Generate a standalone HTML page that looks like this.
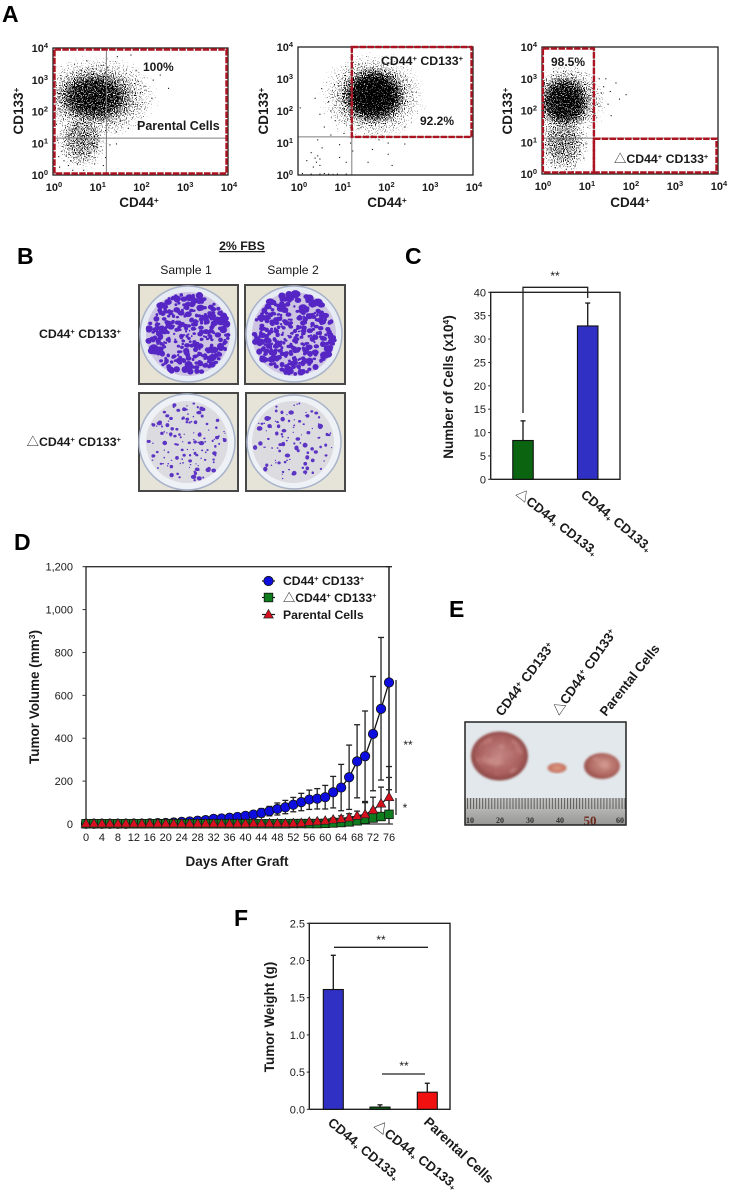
<!DOCTYPE html>
<html>
<head>
<meta charset="utf-8">
<title>CD44 CD133 figure</title>
<style>
html,body{margin:0;padding:0;background:#fff;}
svg{display:block;}
text{font-family:"Liberation Sans","Noto Sans CJK JP",sans-serif;fill:#1a1a1a;}
.b{font-weight:bold;}
.letter{font-size:23px;font-weight:bold;fill:#000;}
.s{font-size:.62em;}
</style>
</head>
<body>
<svg id="fig" xmlns="http://www.w3.org/2000/svg" width="730" height="1195" viewBox="0 0 730 1195">
<defs>
<radialGradient id="cloudGrad">
<stop offset="0" stop-color="#000" stop-opacity=".95"/>
<stop offset=".5" stop-color="#000" stop-opacity=".84"/>
<stop offset=".75" stop-color="#000" stop-opacity=".56"/>
<stop offset="1" stop-color="#000" stop-opacity=".2"/>
</radialGradient>
<filter id="stipple" x="-5%" y="-5%" width="110%" height="110%" color-interpolation-filters="sRGB">
<feTurbulence type="fractalNoise" baseFrequency="0.9" numOctaves="1" seed="4" result="n"/>
<feColorMatrix in="n" type="matrix" values="0 0 0 0 0 0 0 0 0 0 0 0 0 0 0 1.7 0 0 0 -.35" result="na"/>
<feComposite in="SourceGraphic" in2="na" operator="arithmetic" k1="0" k2="1" k3="1" k4="-1" result="d"/>
<feComponentTransfer in="d"><feFuncA type="linear" slope="5"/></feComponentTransfer>
</filter>
<filter id="soft"><feGaussianBlur stdDeviation="1"/></filter>
<filter id="spotSoft"><feGaussianBlur stdDeviation=".35"/></filter>
<filter id="mottle" x="0" y="0" width="100%" height="100%" color-interpolation-filters="sRGB">
<feTurbulence type="fractalNoise" baseFrequency="0.09" numOctaves="2" seed="5"/>
<feColorMatrix type="matrix" values="0 0 0 0 .85 0 0 0 0 .62 0 0 0 0 .6 4 0 0 0 -2.0"/>
<feComposite in2="SourceAlpha" operator="in"/>
<feGaussianBlur stdDeviation="1.3"/>
</filter>
<radialGradient id="tumorGrad" cx=".5" cy=".48" r=".55">
<stop offset="0" stop-color="#c48683"/>
<stop offset=".7" stop-color="#a85e5d"/>
<stop offset="1" stop-color="#84423f"/>
</radialGradient>
<radialGradient id="tumorGrad2" cx=".55" cy=".45" r=".55">
<stop offset="0" stop-color="#cc948a"/>
<stop offset=".7" stop-color="#b26a64"/>
<stop offset="1" stop-color="#964f48"/>
</radialGradient>
<radialGradient id="tumorGrad3" cx=".5" cy=".5" r=".55">
<stop offset="0" stop-color="#dd9a84"/>
<stop offset="1" stop-color="#c06e5c"/>
</radialGradient>
<linearGradient id="rulerGrad" x1="0" y1="0" x2="0" y2="1">
<stop offset="0" stop-color="#c8c8c6"/>
<stop offset=".5" stop-color="#b0b0ae"/>
<stop offset="1" stop-color="#979795"/>
</linearGradient>
<pattern id="rulerTicks" width="3.03" height="14" patternUnits="userSpaceOnUse" x="464" y="798">
<rect width="1" height="11" fill="#5c5c5c"/>
</pattern>
<clipPath id="clipA1"><rect x="53" y="48" width="175" height="127"/></clipPath>
<clipPath id="clipA2"><rect x="298" y="47" width="175" height="128"/></clipPath>
<clipPath id="clipA3"><rect x="542" y="47" width="176" height="127"/></clipPath>
</defs>

<rect x="0" y="0" width="730" height="1195" fill="#fff"/>

<text class="letter" x="2" y="22">A</text>
<text class="letter" x="17" y="264">B</text>
<text class="letter" x="405" y="264">C</text>
<text class="letter" x="14" y="550">D</text>
<text class="letter" x="449" y="617">E</text>
<text class="letter" x="234" y="926">F</text>

<!-- Panel B -->
<g id="panelB">
<text class="b" x="242" y="250" font-size="12.3" text-anchor="middle" text-decoration="underline">2% FBS</text>
<text x="186" y="274" font-size="12.2" text-anchor="middle">Sample 1</text>
<text x="293" y="274" font-size="12.2" text-anchor="middle">Sample 2</text>
<text class="b" x="121" y="338" font-size="12.3" text-anchor="end">CD44<tspan class="s" dy="-4">+</tspan><tspan dy="4"> CD133</tspan><tspan class="s" dy="-4">+</tspan></text>
<text class="b" x="121" y="446" font-size="12.3" text-anchor="end"><tspan font-weight="normal">△</tspan>CD44<tspan class="s" dy="-4">+</tspan><tspan dy="4"> CD133</tspan><tspan class="s" dy="-4">+</tspan></text>

<g id="plate-r1s1">
<rect x="139" y="285" width="99" height="99" fill="#e7e3d4" stroke="#484848" stroke-width="2"/>
<circle cx="188" cy="334" r="48" fill="#e6ebf4" stroke="#a9b4cb" stroke-width="1.5"/>
<circle cx="188" cy="334" r="42" fill="#cdc4e2"/>
</g>
<g id="plate-r1s2">
<rect x="245" y="285" width="100" height="99" fill="#e7e3d4" stroke="#484848" stroke-width="2"/>
<circle cx="294" cy="334" r="48" fill="#e6ebf4" stroke="#a9b4cb" stroke-width="1.5"/>
<circle cx="294" cy="334" r="42" fill="#cdc4e2"/>
</g>
<g id="plate-r2s1">
<rect x="139" y="393" width="99" height="98" fill="#e6e4d8" stroke="#484848" stroke-width="2"/>
<circle cx="187" cy="442" r="48" fill="#eef1f6" stroke="#a9b4cb" stroke-width="1.5"/>
<circle cx="187" cy="442" r="41" fill="#dcdbe0"/>
</g>
<g id="plate-r2s2">
<rect x="246" y="393" width="99" height="98" fill="#e6e4d8" stroke="#484848" stroke-width="2"/>
<circle cx="294" cy="442" r="47" fill="#eef1f6" stroke="#a9b4cb" stroke-width="1.5"/>
<circle cx="293" cy="442" r="41" fill="#dcdbe0"/>
</g>
</g>

<!-- Panel E -->
<g id="panelE">
<text class="b" transform="translate(502,717) rotate(-53)" font-size="13.2">CD44<tspan class="s" dy="-4">+</tspan><tspan dy="4"> CD133</tspan><tspan class="s" dy="-4">+</tspan></text>
<text class="b" transform="translate(559,716) rotate(-55)" font-size="13.2"><tspan font-weight="normal">△</tspan>CD44<tspan class="s" dy="-4">+</tspan><tspan dy="4"> CD133</tspan><tspan class="s" dy="-4">+</tspan></text>
<text class="b" transform="translate(606,717) rotate(-51.5)" font-size="13.2">Parental Cells</text>
<rect x="465" y="722" width="161" height="103" fill="#e2e8ec"/>
<rect x="465" y="798" width="161" height="27" fill="url(#rulerGrad)"/>
<rect x="465" y="798" width="161" height="14" fill="url(#rulerTicks)"/>
<ellipse cx="499.5" cy="756" rx="28.5" ry="24.5" fill="url(#tumorGrad)" filter="url(#soft)"/>
<ellipse cx="499.5" cy="756" rx="24" ry="20" fill="#000" filter="url(#mottle)" opacity=".55"/>
<ellipse cx="557" cy="768" rx="9.5" ry="5" fill="url(#tumorGrad3)" filter="url(#soft)"/>
<ellipse cx="602" cy="766" rx="18" ry="13" fill="url(#tumorGrad2)" filter="url(#soft)"/>
<ellipse cx="602" cy="765" rx="14" ry="9" fill="#000" filter="url(#mottle)" opacity=".5"/>
<g font-size="8" font-weight="bold" text-anchor="middle">
<text x="470" y="823" style="font-family:'Liberation Serif',serif;fill:#2e2e2e">10</text>
<text x="500" y="823" style="font-family:'Liberation Serif',serif;fill:#2e2e2e">20</text>
<text x="530" y="823" style="font-family:'Liberation Serif',serif;fill:#2e2e2e">30</text>
<text x="560" y="823" style="font-family:'Liberation Serif',serif;fill:#2e2e2e">40</text>
<text x="590" y="825" font-size="13" style="font-family:'Liberation Serif',serif;fill:#6e2a20">50</text>
<text x="620" y="823" style="font-family:'Liberation Serif',serif;fill:#2e2e2e">60</text>
</g>
<rect x="465" y="722" width="161" height="103" fill="none" stroke="#222" stroke-width="1.5"/>
</g>

<!-- Axis titles -->
<text class="b" x="139" y="207" font-size="13.5" text-anchor="middle">CD44<tspan class="s" dy="-4">+</tspan></text>
<text class="b" x="387" y="207" font-size="13.5" text-anchor="middle">CD44<tspan class="s" dy="-4">+</tspan></text>
<text class="b" x="630" y="207" font-size="13.5" text-anchor="middle">CD44<tspan class="s" dy="-4">+</tspan></text>
<text class="b" transform="translate(23,111) rotate(-90)" font-size="13.5" text-anchor="middle">CD133<tspan class="s" dy="-4">+</tspan></text>
<text class="b" transform="translate(268,111) rotate(-90)" font-size="13.5" text-anchor="middle">CD133<tspan class="s" dy="-4">+</tspan></text>
<text class="b" transform="translate(512,111) rotate(-90)" font-size="13.5" text-anchor="middle">CD133<tspan class="s" dy="-4">+</tspan></text>

<text class="b" transform="translate(453,387) rotate(-90)" font-size="13.5" text-anchor="middle">Number of Cells (x10<tspan class="s" dy="-4">4</tspan><tspan dy="4">)</tspan></text>
<text class="b" transform="translate(515,495) rotate(38)" font-size="13"><tspan font-weight="normal">△</tspan>CD44<tspan class="s" dy="2">+</tspan><tspan dy="-2"> CD133</tspan><tspan class="s" dy="2">+</tspan></text>
<text class="b" transform="translate(580,496) rotate(40)" font-size="13.2">CD44<tspan class="s" dy="2">+</tspan><tspan dy="-2"> CD133</tspan><tspan class="s" dy="2">+</tspan></text>
<text x="555" y="280" font-size="12" text-anchor="middle">**</text>

<text class="b" transform="translate(39,697) rotate(-90)" font-size="13.5" text-anchor="middle">Tumor Volume (mm<tspan class="s" dy="-4">3</tspan><tspan dy="4">)</tspan></text>
<text class="b" x="237" y="866" font-size="13.5" text-anchor="middle">Days After Graft</text>
<text x="408" y="749" font-size="12" text-anchor="middle">**</text>
<text x="405" y="812" font-size="12" text-anchor="middle">*</text>
<text class="b" x="283" y="585" font-size="12.2">CD44<tspan class="s" dy="-4">+</tspan><tspan dy="4"> CD133</tspan><tspan class="s" dy="-4">+</tspan></text>
<text class="b" x="283" y="602" font-size="12.2"><tspan font-weight="normal">△</tspan>CD44<tspan class="s" dy="-4">+</tspan><tspan dy="4"> CD133</tspan><tspan class="s" dy="-4">+</tspan></text>
<text class="b" x="283" y="619" font-size="12.2">Parental Cells</text>

<text class="b" transform="translate(274,1017) rotate(-90)" font-size="13.5" text-anchor="middle">Tumor Weight (g)</text>
<text class="b" transform="translate(327,1124) rotate(40)" font-size="13.3">CD44<tspan class="s" dy="2">+</tspan><tspan dy="-2"> CD133</tspan><tspan class="s" dy="2">+</tspan></text>
<text class="b" transform="translate(373,1127) rotate(38)" font-size="13.3"><tspan font-weight="normal">△</tspan>CD44<tspan class="s" dy="2">+</tspan><tspan dy="-2"> CD133</tspan><tspan class="s" dy="2">+</tspan></text>
<text class="b" transform="translate(423,1123) rotate(43)" font-size="13.5">Parental Cells</text>
<text x="381" y="944" font-size="12" text-anchor="middle">**</text>
<text x="404" y="1070" font-size="12" text-anchor="middle">**</text>
</svg>

<script>
// ---- Flow cytometry data (log10 units) ----
const flowExponents = [0, 1, 2, 3, 4];
const a1CloudX = [1.0, 0.95, 0.66];
const a1CloudY = [2.45, 2.45, 1.15];
const a1CloudSpreadX = [1.45, 1.05, 0.62];
const a1CloudSpreadY = [1.35, 1.0, 1.05];
const a1CloudDensity = [0.62, 0.88, 0.62];
const a2CloudX = [1.71, 1.72];
const a2CloudY = [2.45, 2.48];
const a2CloudSpreadX = [1.25, 0.9];
const a2CloudSpreadY = [1.45, 1.05];
const a2CloudDensity = [0.6, 1];
const a3CloudX = [0.55, 0.52, 0.48];
const a3CloudY = [2.3, 2.28, 1.0];
const a3CloudSpreadX = [0.95, 0.72, 0.62];
const a3CloudSpreadY = [1.25, 1.0, 1.05];
const a3CloudDensity = [0.62, 0.92, 0.62];
const a1PointsX = [.77,1.47,1.78,1.25,1.9,2.45,2.64,2.26,2.1,2.29,1.95,2.0,1.72,1.45,1.45,1.3,1.2,1.55,1.35,.13,.35,.56,.15,.3,.5,.2,.45,.7,.85,1.0,.4,.6,.25,1.2,1.15,.9,.1,.08,.05,.1,.18,.3,.45,.65,.9,1.1,.7,.35,.95];
const a1PointsY = [3.6,3.73,3.78,3.4,3.3,3.15,2.73,2.42,2.8,2.99,2.95,2.6,1.47,1.36,.98,.95,1.4,1.7,1.65,.58,.3,.35,.25,.6,.55,.75,.15,.5,.7,.9,.45,.72,.45,.55,.3,.95,1.1,1.6,2.4,2.6,3.05,3.1,3.25,3.3,3.35,3.45,.15,.05,.35];
const a2PointsX = [.05,.39,.54,.7,.5,.75,.9,1.0,.85,.6,1.05,1.2,.75,.95,1.2,.45,.55,.39,.45,.3,.42,.5,.2,.5,.35,.95,1.1,1.25,.1,.3,.5,.7,.9,1.1,.6,.8,2.49,2.6,2.44,2.06,2.06,2.15,2.44,1.7,1.6,1.85,2.3,2.5,2.35];
const a2PointsY = [2.1,2.4,2.7,2.3,1.9,2.0,2.5,1.95,1.7,1.5,1.3,1.8,1.25,.95,1.0,1.1,.85,.53,.6,.7,.4,.3,.45,.5,.25,.55,.4,.75,.05,.03,.03,.03,.03,.03,.05,.02,2.97,2.6,1.5,1.0,.65,.3,.97,.8,.4,1.1,2.2,2.3,3.1];
const a3PointsX = [1.91,1.76,1.68,1.57,1.45,1.35,1.25,1.5,1.1,1.3,1.15,1.4,1.05,1.55,1.2,1.0,1.15,.95,1.0,.85,.9,.3,.55,.2,.75,.15,.4,.7,.8,.6];
const a3PointsY = [2.5,2.36,2.87,1.84,3.0,2.55,2.2,2.2,2.65,3.0,2.9,2.75,2.4,2.6,1.85,.02,.05,.5,.95,.7,1.3,.2,.15,.35,.25,.05,.05,.08,1.0,.4];

// ---- Panel C data ----
const cCategories = ['delta-cd44-cd133', 'cd44-cd133'];
const cValues = [8.3, 32.8];
const cErrors = [4.2, 4.9];
const cColors = ['#0b6410', '#3030c4'];
const cTicks = [0, 5, 10, 15, 20, 25, 30, 35, 40];

// ---- Panel D data ----
const days = [0,2,4,6,8,10,12,14,16,18,20,22,24,26,28,30,32,34,36,38,40,42,44,46,48,50,52,54,56,58,60,62,64,66,68,70,72,74,76];
const blueValues = [1,1,1,1,1,1,2,2,3,4,5,7,10,12,15,18,24,26,29,33,38,44,52,60,70,78,90,102,114,118,125,148,170,218,292,316,420,537,660];
const blueErrUp = [1,1,1,1,1,1,1,2,2,3,3,4,5,6,7,8,9,10,11,12,14,16,20,22,28,32,34,41,44,47,55,74,108,150,171,211,268,333,540];
const blueErrDown = [1,1,1,1,1,1,1,2,2,3,3,4,5,6,7,8,9,10,11,12,14,16,20,22,28,30,33,40,46,48,55,73,108,150,170,211,265,332,500];
const greenValues = [1,1,1,1,1,1,1,1,1,1,1,1,1,1,1,1,1,1,1,1,1,1,1,1,1,1,2,2,2,2,3,5,7,10,15,22,28,35,45];
const greenErrUp = [1,1,1,1,1,1,1,1,1,1,1,1,1,1,1,1,1,1,1,1,2,2,2,2,2,2,3,3,3,3,4,6,10,14,20,78,40,60,172];
const redValues = [2,2,2,2,2,2,2,2,2,2,2,2,2,2,2,2,2,2,2,2,2,3,3,3,3,3,3,4,10,12,15,20,24,30,38,45,65,95,125];
const redErrUp = [1,1,1,1,1,1,1,1,1,1,1,1,1,1,1,1,1,1,1,1,2,2,2,2,2,2,2,3,4,5,5,8,14,18,22,55,60,77,143];
const dXTicks = [0,4,8,12,16,20,24,28,32,36,40,44,48,52,56,60,64,68,72,76];
const dYTicks = [0,200,400,600,800,1000,1200];
const dYTickLabels = ['0','200','400','600','800','1,000','1,200'];

// ---- Panel F data ----
const fCategories = ['cd44-cd133', 'delta-cd44-cd133', 'parental-cells'];
const fValues = [1.61, 0.03, 0.23];
const fErrors = [0.46, 0.03, 0.12];
const fColors = ['#3030c4', '#0b6410', '#f01010'];
const fTicks = [0, 0.5, 1.0, 1.5, 2.0, 2.5];

const svg = document.getElementById('fig');
const NS = 'http://www.w3.org/2000/svg';
function mk(tag, attrs, parent) {
  const el = document.createElementNS(NS, tag);
  for (const k in attrs) el.setAttribute(k, attrs[k]);
  (parent || svg).appendChild(el);
  return el;
}
function line(x1, y1, x2, y2, stroke, w, name, parent) {
  const el = mk('line', {x1: x1, y1: y1, x2: x2, y2: y2, stroke: stroke, 'stroke-width': w}, parent);
  
  
  return el;
}
function label(x, y, txt, size, anchor, weight, name, parent) {
  const el = mk('text', {x: x, y: y, 'font-size': size, 'text-anchor': anchor, 'font-weight': weight}, parent);
  el.textContent = txt;
  
  
  return el;
}

// ---- Culture-plate photo texture (decorative colonies, not chart data) ----
function jitter(i, k) {
  const v = Math.sin(i * 12.9898 + k * 78.233) * 43758.5453;
  return v - Math.floor(v);
}
function colonies(groupId, cx, cy, R, count, minR, maxR, seed, centerShrink, color) {
  const parent = document.getElementById(groupId);
  const g = mk('g', {filter: 'url(#spotSoft)', fill: color}, parent);
  
  
  for (let i = 0; i < count; i++) {
    const rr = R * Math.sqrt((i + .5) / count);
    const ang = i * 2.39996 + jitter(i, seed) * 1.2;
    const d = Math.min(R - 1, rr + (jitter(i, seed + 1) - .5) * 4);
    const edge = d / R;
    const scale = 1 - centerShrink * (1 - edge);
    const rad = (minR + (maxR - minR) * Math.pow(jitter(i, seed + 2), 1.8)) * scale;
    const spot = mk('ellipse', {cx: cx + d * Math.cos(ang), cy: cy + d * Math.sin(ang), rx: rad * (0.85 + jitter(i, seed + 3) * .5), ry: rad}, g);
    
    
  }
}
colonies('plate-r1s1', 188, 334, 41, 340, 1.5, 3.8, 3, .45, '#5528c4');
colonies('plate-r1s2', 294, 334, 41, 350, 1.5, 4.0, 8, .5, '#5528c4');
colonies('plate-r2s1', 187, 442, 40, 130, .6, 2.2, 13, 0, '#5c34c4');
colonies('plate-r2s2', 293, 442, 40, 105, .6, 2.5, 21, 0, '#5c34c4');

// ---- Flow plot drawing ----
function flowPlot(id, left, right, top, bottom, clip, cloudX, cloudY, cloudSX, cloudSY, cloudD, ptsX, ptsY, vGate, hGate, gates, yLabelRight, xLabelY) {
  const g = mk('g', {});
  
  
  const xS = v => left + v * (right - left) / 4;
  const yS = v => bottom - v * (bottom - top) / 4;
  const pg = mk('g', {'clip-path': 'url(#' + clip + ')'}, g);
  
  
  cloudX.forEach((cx, i) => {
    const e = mk('ellipse', {cx: xS(cx), cy: yS(cloudY[i]), rx: cloudSX[i] * (right - left) / 4, ry: cloudSY[i] * (bottom - top) / 4, fill: 'url(#cloudGrad)', 'fill-opacity': cloudD[i], filter: 'url(#stipple)'}, pg);
    
    
  });
  ptsX.forEach((px, i) => {
    const c = mk('rect', {x: xS(px) - .5, y: yS(ptsY[i]) - .5, width: 1.1, height: 1.1, fill: '#111'}, pg);
    
    
  });
  line(xS(vGate), top, xS(vGate), bottom, '#7c7c7c', 1, 'gate-vertical-' + id, g);
  line(left, yS(hGate), right, yS(hGate), '#7c7c7c', 1, 'gate-horizontal-' + id, g);
  const frame = mk('rect', {x: left, y: top, width: right - left, height: bottom - top, fill: 'none', stroke: '#222', 'stroke-width': 1.3}, g);
  
  
  gates.forEach(r => {
    const x0 = r[0] === null ? left + 1.5 : xS(r[0]);
    const x1 = r[1] === null ? right - 1.5 : xS(r[1]);
    const y0 = r[2] === null ? top + 1.5 : yS(r[2]);
    const y1 = r[3] === null ? bottom - 1.5 : yS(r[3]);
    const gr = mk('rect', {x: x0, y: y0, width: x1 - x0, height: y1 - y0, fill: 'none', stroke: '#ab1420', 'stroke-width': 2.4, 'stroke-dasharray': '6.5 1.3'}, g);
    
    
  });
  flowExponents.forEach(e => {
    const xl = mk('text', {x: xS(e) + 1, y: xLabelY, 'font-size': 11, 'text-anchor': 'middle', 'font-weight': 'bold'}, g);
    xl.innerHTML = '10<tspan font-size="7.5" dy="-4">' + e + '</tspan>';
    
    
    const yl = mk('text', {x: yLabelRight, y: yS(e) + 4, 'font-size': 11, 'text-anchor': 'end', 'font-weight': 'bold'}, g);
    yl.innerHTML = '10<tspan font-size="7.5" dy="-4">' + e + '</tspan>';
    
    
  });
}
flowPlot('a1', 53, 228, 48, 175, 'clipA1', a1CloudX, a1CloudY, a1CloudSpreadX, a1CloudSpreadY, a1CloudDensity, a1PointsX, a1PointsY, 1.22, 1.16, [[null, null, null, null]], 48, 191);
flowPlot('a2', 298, 473, 47, 175, 'clipA2', a2CloudX, a2CloudY, a2CloudSpreadX, a2CloudSpreadY, a2CloudDensity, a2PointsX, a2PointsY, 1.23, 1.19, [[1.23, null, 4, 1.19]], 293, 191);
flowPlot('a3', 542, 718, 47, 174, 'clipA3', a3CloudX, a3CloudY, a3CloudSpreadX, a3CloudSpreadY, a3CloudDensity, a3PointsX, a3PointsY, 1.18, 1.13, [[0.02, 1.18, null, null], [1.18, null, 1.11, null]], 537, 190);

// Panel A annotations drawn above the dots
function annotate(x, y, size, html, name) {
  const t = mk('text', {x: x, y: y, 'font-size': size, 'font-weight': 'bold'});
  t.innerHTML = html;
  
  
}
const pair = '<tspan class="s" dy="-4">+</tspan><tspan dy="4"> CD133</tspan><tspan class="s" dy="-4">+</tspan>';
annotate(143, 71, 12, '100%', 'a1-percent');
annotate(137, 130, 12.5, 'Parental Cells', 'a1-parental-label');
annotate(381, 65, 12.3, 'CD44' + pair, 'a2-population-label');
annotate(420, 125, 12, '92.2%', 'a2-percent');
annotate(551, 66, 12, '98.5%', 'a3-percent');
annotate(614, 163, 12.3, '<tspan font-weight="normal">△</tspan>CD44' + pair, 'a3-population-label');

// ---- Bar chart helper ----
function barChart(id, left, right, top, bottom, maxV, ticks, fmt, values, errors, colors, centers, barW, categories, labelRight) {
  const g = mk('g', {});
  
  
  const yS = v => bottom - v * (bottom - top) / maxV;
  const frame = mk('path', {d: 'M' + left + ' ' + bottom + 'V' + top + 'H' + right + 'V' + bottom + 'H' + left, fill: 'none', stroke: '#222', 'stroke-width': 1.4}, g);
  
  
  ticks.forEach(t => {
    line(left - 2.5, yS(t), left, yS(t), '#222', 1, 'y-tick-' + id, g);
    label(labelRight, yS(t) + 4, fmt(t), 11, 'end', 'normal', 'y-tick-label-' + id, g);
  });
  values.forEach((v, i) => {
    const cx = centers[i];
    line(cx, yS(v), cx, yS(v + errors[i]), '#222', 1.4, 'error-bar-' + categories[i], g);
    line(cx - 2.5, yS(v + errors[i]), cx + 2.5, yS(v + errors[i]), '#222', 1.4, 'error-cap-' + categories[i], g);
    const b = mk('rect', {x: cx - barW / 2, y: yS(v), width: barW, height: bottom - yS(v), fill: colors[i], stroke: '#111', 'stroke-width': 1.1}, g);
    
    
  });
  return yS;
}
const cY = barChart('c', 490.7, 620, 292.3, 479.3, 40, cTicks, t => String(t), cValues, cErrors, cColors, [523, 587.7], 20.5, cCategories, 486);
const bracket = mk('path', {d: 'M523 413V287.3H587.7V298', fill: 'none', stroke: '#222', 'stroke-width': 1.3});



const fY = barChart('f', 309.3, 450, 923.3, 1109.3, 2.5, fTicks, t => t.toFixed(1), fValues, fErrors, fColors, [333.3, 380, 427.3], 20, fCategories, 305);
line(334, 947.3, 428, 947.3, '#222', 1.3, 'f-significance-line-top');
line(382, 1074, 425, 1074, '#222', 1.3, 'f-significance-line-lower');

// ---- Panel D line chart ----
const xD = d => 86 + d * (303 / 76);
const yD = v => 824 - v * (257.3 / 1200);
const dG = mk('g', {});


const dFrame = mk('path', {d: 'M' + xD(0) + ' ' + yD(0) + 'V' + yD(1200) + 'H' + xD(76) + 'V' + yD(0), fill: 'none', stroke: '#333', 'stroke-width': 1.4}, dG);


line(xD(0) - 4, yD(0), xD(76) + 4, yD(0), '#333', 1.3, 'd-x-axis', dG);
dYTicks.forEach((t, i) => {
  line(xD(0) - 3.5, yD(t), xD(0), yD(t), '#333', 1, 'd-y-tick', dG);
  label(73, yD(t) + 4, dYTickLabels[i], 11, 'end', 'normal', 'd-y-tick-label', dG);
});
dXTicks.forEach(t => {
  label(xD(t), 841, String(t), 11, 'middle', 'normal', 'd-x-tick-label', dG);
});
function errBars(vals, up, down, name) {
  days.forEach((d, i) => {
    const x = xD(d);
    const t = yD(vals[i] + up[i]);
    const b = yD(Math.max(0, vals[i] - (down ? down[i] : 0)));
    line(x, t, x, b, '#333', 1.4, name + '-error-bar', dG);
    line(x - 3, t, x + 3, t, '#222', 1.3, name + '-error-cap-upper', dG);
    if (down) line(x - 3, b, x + 3, b, '#222', 1.3, name + '-error-cap-lower', dG);
  });
}
errBars(blueValues, blueErrUp, blueErrDown, 'double-positive');
errBars(greenValues, greenErrUp, null, 'delta');
errBars(redValues, redErrUp, null, 'parental');
function polyline(vals, stroke, name) {
  const pts = days.map((d, i) => xD(d) + ',' + yD(vals[i])).join(' ');
  const p = mk('polyline', {points: pts, fill: 'none', stroke: stroke, 'stroke-width': 1.3}, dG);
  
  
}
polyline(blueValues, '#111', 'double-positive-line');
polyline(greenValues, '#111', 'delta-line');
polyline(redValues, '#111', 'parental-line');
function markCircle(x, y, parent, name) {
  const c = mk('circle', {cx: x, cy: y, r: 4.7, fill: '#0d0de0', stroke: '#111', 'stroke-width': .8}, parent);
  
  
}
function markSquare(x, y, parent, name) {
  const c = mk('rect', {x: x - 4.3, y: y - 4.3, width: 8.6, height: 8.6, fill: '#0f7d1e', stroke: '#111', 'stroke-width': .8}, parent);
  
  
}
function markTriangle(x, y, parent, name) {
  const c = mk('path', {d: 'M' + x + ' ' + (y - 5) + 'L' + (x + 4.8) + ' ' + (y + 3.5) + 'H' + (x - 4.8) + 'Z', fill: '#d8101e', stroke: '#222', 'stroke-width': .7}, parent);
  
  
}
days.forEach((d, i) => markCircle(xD(d), yD(blueValues[i]), dG, 'double-positive-point'));
days.forEach((d, i) => markSquare(xD(d), yD(greenValues[i]), dG, 'delta-point'));
days.forEach((d, i) => markTriangle(xD(d), yD(redValues[i]), dG, 'parental-point'));

line(396, 680, 396, 793, '#222', 1.3, 'd-significance-line-double');
line(396, 798, 396, 815, '#222', 1.3, 'd-significance-line-single');

// Legend
line(262, 581, 275, 581, '#111', 1.2, 'legend-line-double-positive');
markCircle(268.5, 581, svg, 'legend-marker-double-positive');
line(262, 597.5, 275, 597.5, '#111', 1.2, 'legend-line-delta');
markSquare(268.5, 597.5, svg, 'legend-marker-delta');
line(262, 614.5, 275, 614.5, '#111', 1.2, 'legend-line-parental');
markTriangle(268.5, 614.5, svg, 'legend-marker-parental');
</script>
</body>
</html>
